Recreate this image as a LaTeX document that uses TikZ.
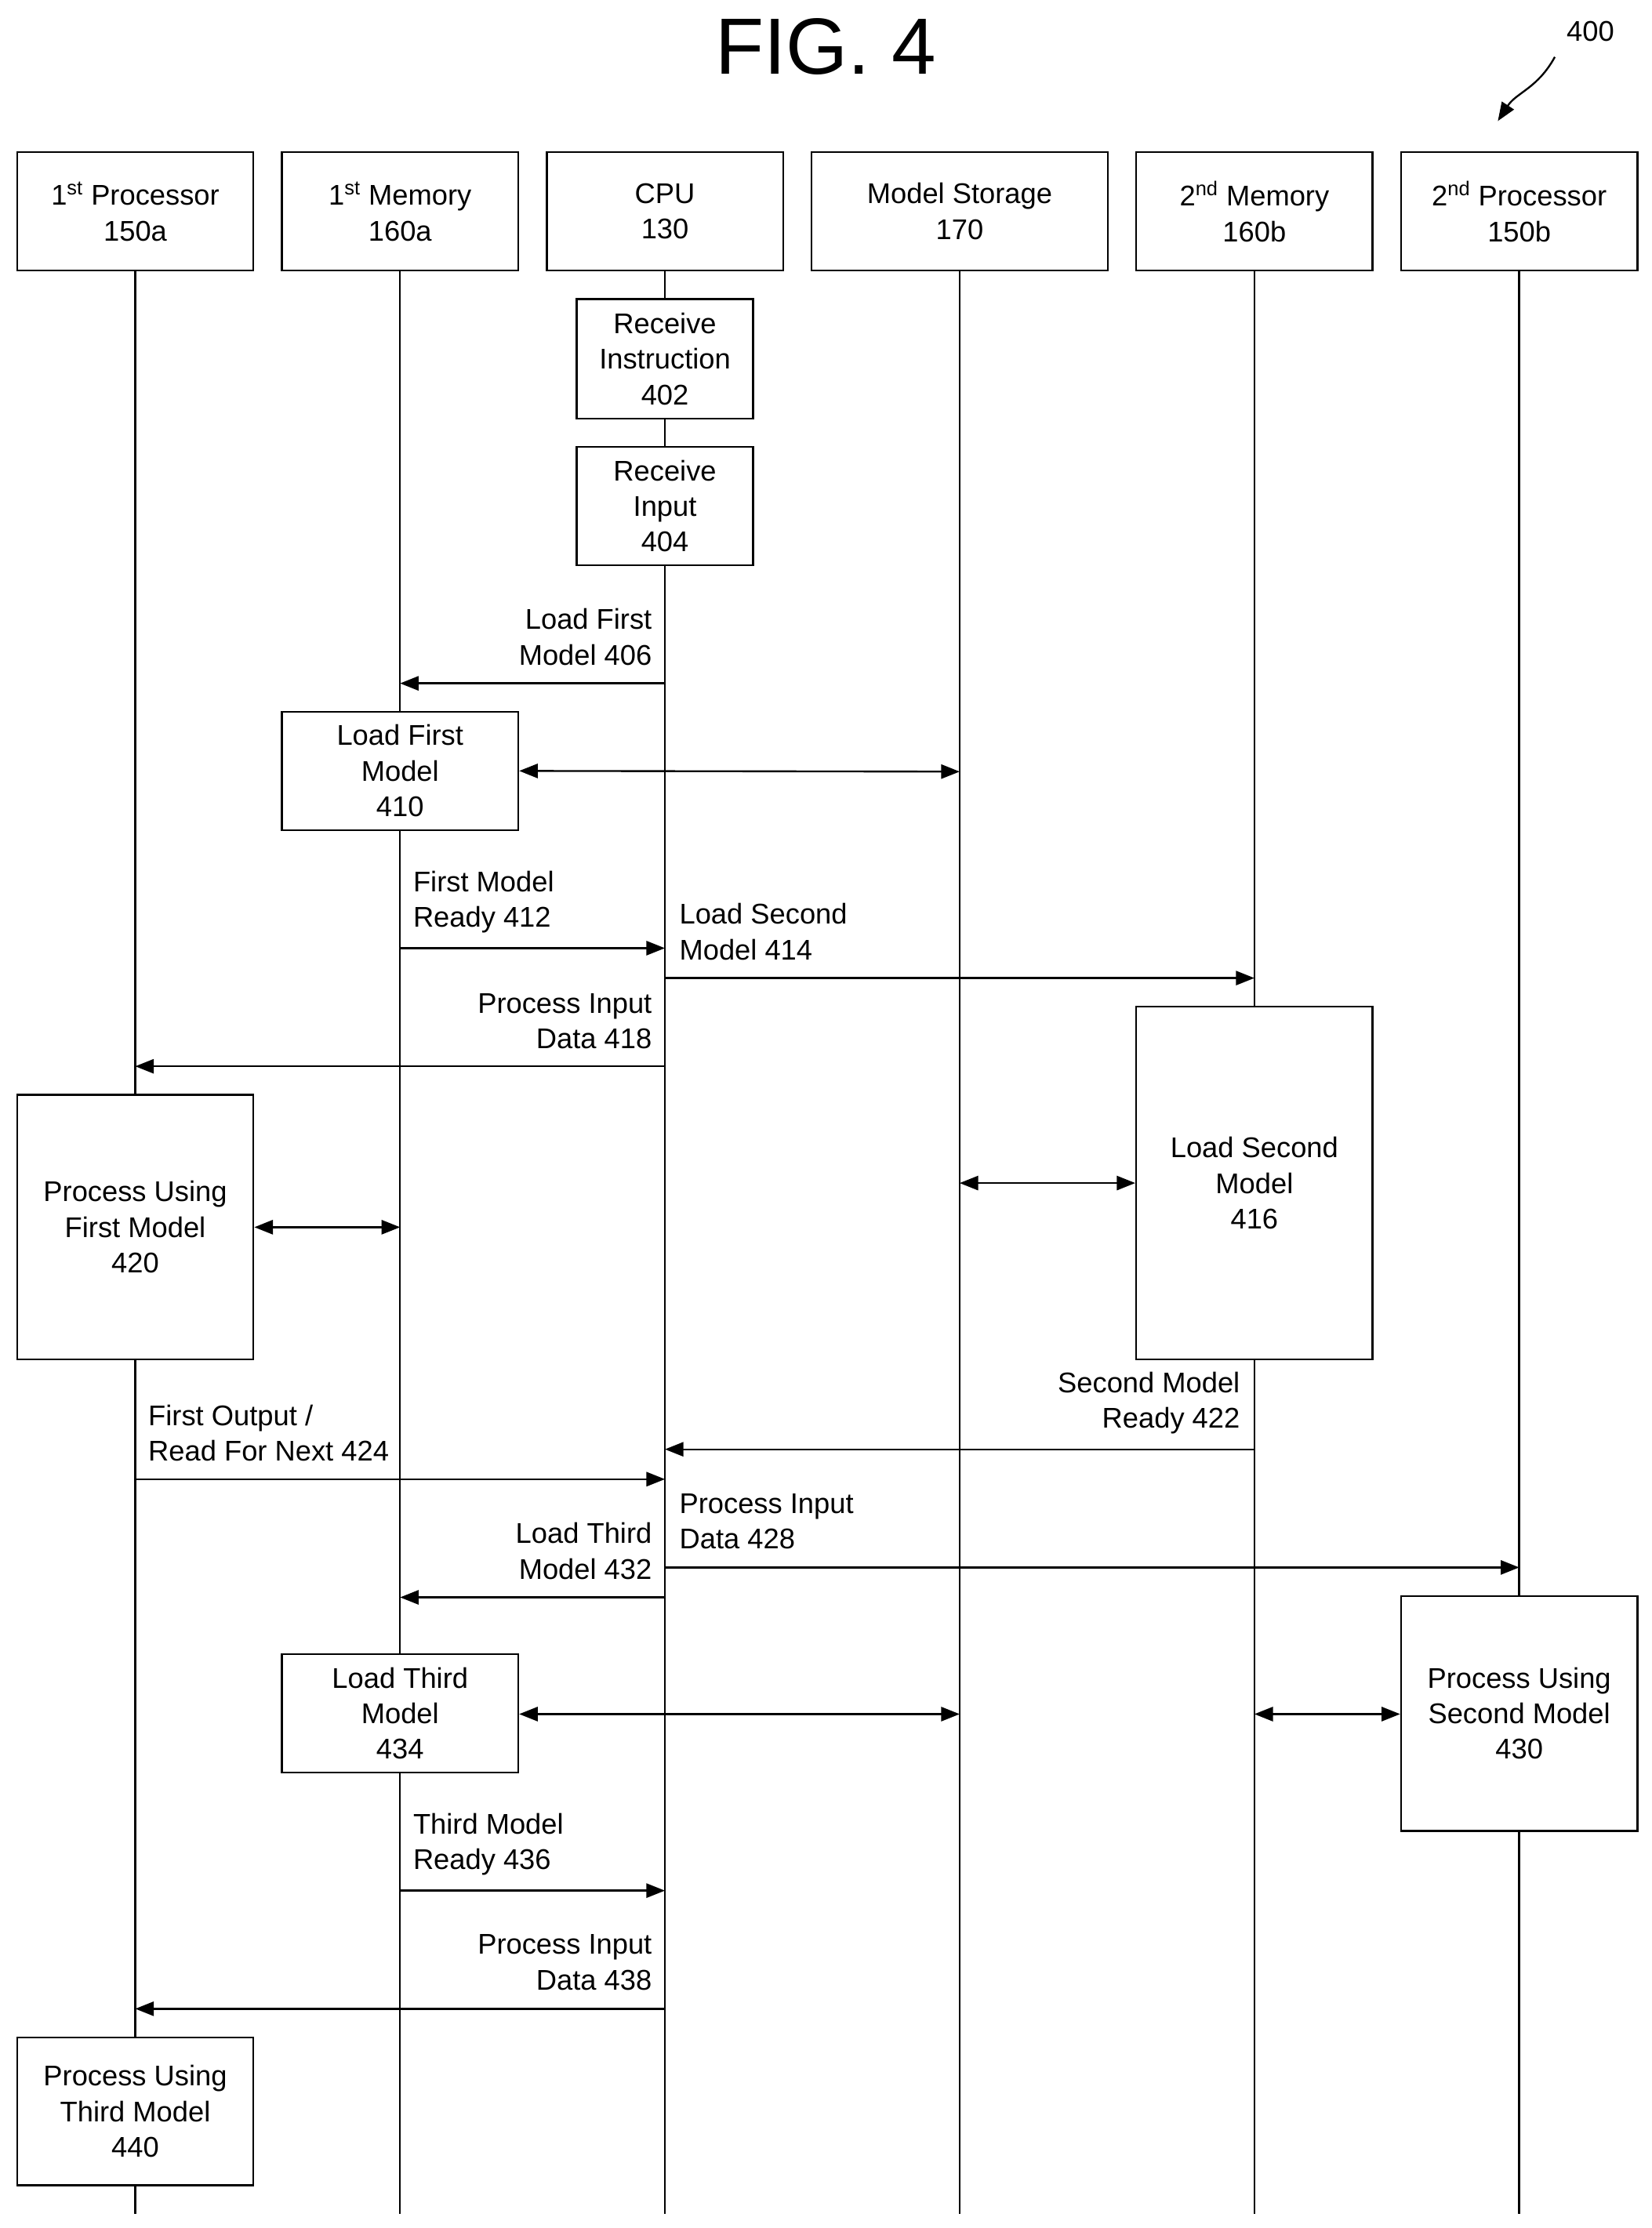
\documentclass[tikz,border=0pt]{standalone}
\usepackage{fontspec}
\setmainfont{Liberation Sans}
\usetikzlibrary{arrows.meta}
\begin{document}
\begin{tikzpicture}[x=1pt,y=-1pt,
  every node/.style={font=\fontsize{20}{25}\selectfont},
  box/.style={draw,line width=1.3pt,fill=white,align=center,inner sep=0},
  life/.style={line width=1.3pt},
  arr/.style={line width=1.3pt,-{Triangle[length=13pt,width=10pt]}},
  darr/.style={line width=1.3pt,{Triangle[length=13pt,width=10pt]}-{Triangle[length=13pt,width=10pt]}},
  lbl/.style={inner sep=0,align=left,anchor=west},
  lbr/.style={inner sep=0,align=right,anchor=east}]
\useasboundingbox (0,0) rectangle (1160,1565);
\node[font=\fontsize{56}{60}\selectfont] (title) at (580,33) {FIG. 4};
\node (n400) at (1117,22) {400};
\coordinate (a400s) at (1092,40);
\coordinate (a400e) at (1052,85);
\draw[arr] (a400s) .. controls (1080,62) and (1065,65) .. (a400e);
% lifelines
\foreach \n/\x in {p1/95,m1/281,cpu/467,ms/674,m2/881,p2/1067}{
  \coordinate (\n top) at (\x,190); \coordinate (\n bot) at (\x,1555);
  \draw[life] (\n top) -- (\n bot);}
% headers
\node[box,minimum width=166pt,minimum height=83pt] (hp1) at (95,148.5) {1\textsuperscript{st} Processor\\150a};
\node[box,minimum width=166pt,minimum height=83pt] (hm1) at (281,148.5) {1\textsuperscript{st} Memory\\160a};
\node[box,minimum width=166pt,minimum height=83pt] (hcpu) at (467,148.5) {CPU\\130};
\node[box,minimum width=208pt,minimum height=83pt] (hms) at (674,148.5) {Model Storage\\170};
\node[box,minimum width=166pt,minimum height=83pt] (hm2) at (881,148.5) {2\textsuperscript{nd} Memory\\160b};
\node[box,minimum width=166pt,minimum height=83pt] (hp2) at (1067,148.5) {2\textsuperscript{nd} Processor\\150b};
% activation boxes
\node[box,minimum width=124pt,minimum height=84pt] (b402) at (467,252) {Receive\\Instruction\\402};
\node[box,minimum width=124pt,minimum height=83pt] (b404) at (467,355.5) {Receive\\Input\\404};
\node[box,minimum width=166pt,minimum height=83pt] (b410) at (281,541.5) {Load First\\Model\\410};
\node[box,minimum width=166pt,minimum height=248pt] (b416) at (881,831) {Load Second\\Model\\416};
\node[box,minimum width=166pt,minimum height=186pt] (b420) at (95,862) {Process Using\\First Model\\420};
\node[box,minimum width=166pt,minimum height=83pt] (b434) at (281,1203.5) {Load Third\\Model\\434};
\node[box,minimum width=166pt,minimum height=165pt] (b430) at (1067,1203.5) {Process Using\\Second Model\\430};
\node[box,minimum width=166pt,minimum height=104pt] (b440) at (95,1483) {Process Using\\Third Model\\440};
% messages
\coordinate (c406a) at (467,480); \coordinate (c406b) at (281,480);
\draw[arr] (c406a) -- (c406b);
\node[lbr] (l406) at (458,447.5) {Load First\\Model 406};
\coordinate (c410) at (674,542); \draw[darr] (b410.east) -- (c410);
\coordinate (c412a) at (281,666); \coordinate (c412b) at (467,666);
\draw[arr] (c412a) -- (c412b);
\node[lbl] (l412) at (290,633.5) {First Model\\Ready 412};
\coordinate (c414a) at (467,687); \coordinate (c414b) at (881,687);
\draw[arr] (c414a) -- (c414b);
\node[lbl] (l414) at (477,654.5) {Load Second\\Model 414};
\coordinate (c418a) at (467,749); \coordinate (c418b) at (95,749);
\draw[arr] (c418a) -- (c418b);
\node[lbr] (l418) at (458,717.5) {Process Input\\Data 418};
\coordinate (c420) at (281,862); \draw[darr] (b420.east) -- (c420);
\coordinate (c416) at (674,831); \draw[darr] (c416) -- (b416.west);
\coordinate (c422a) at (881,1018); \coordinate (c422b) at (467,1018);
\draw[arr] (c422a) -- (c422b);
\node[lbr] (l422) at (871,985.5) {Second Model\\Ready 422};
\coordinate (c424a) at (95,1039); \coordinate (c424b) at (467,1039);
\draw[arr] (c424a) -- (c424b);
\node[lbl] (l424) at (104,1006.5) {First Output /\\Read For Next 424};
\coordinate (c428a) at (467,1101); \coordinate (c428b) at (1067,1101);
\draw[arr] (c428a) -- (c428b);
\node[lbl] (l428) at (477,1068.5) {Process Input\\Data 428};
\coordinate (c432a) at (467,1122); \coordinate (c432b) at (281,1122);
\draw[arr] (c432a) -- (c432b);
\node[lbr] (l432) at (458,1089.5) {Load Third\\Model 432};
\coordinate (c434) at (674,1204); \draw[darr] (b434.east |- c434) -- (c434);
\coordinate (c430) at (881,1204); \draw[darr] (c430) -- (b430.west |- c430);
\coordinate (c436a) at (281,1328); \coordinate (c436b) at (467,1328);
\draw[arr] (c436a) -- (c436b);
\node[lbl] (l436) at (290,1295.5) {Third Model\\Ready 436};
\coordinate (c438a) at (467,1411); \coordinate (c438b) at (95,1411);
\draw[arr] (c438a) -- (c438b);
\node[lbr] (l438) at (458,1378.5) {Process Input\\Data 438};
\end{tikzpicture}
\end{document}
